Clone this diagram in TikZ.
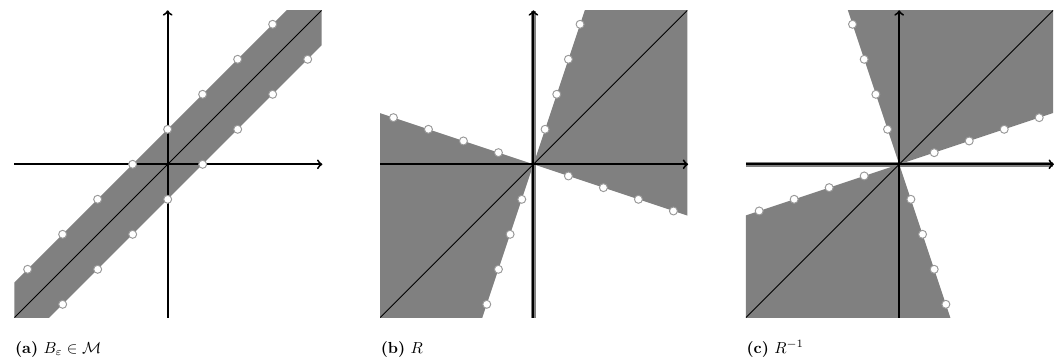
\documentclass[tikz,border=0pt]{standalone}
\usepackage{amsmath}
\usepackage{amssymb}
\usepackage{tikz}

\begin{document}
\begin{tikzpicture}[x=0.77cm, y=0.77cm,
  axis/.style={->, very thick},
  region/.style={fill=black!50},
  dot/.style={circle, fill=white, draw=black!40, line width=0.6pt, inner sep=0pt, minimum size=5pt},
  subcap/.style={anchor=base west, inner sep=0pt}]
  \useasboundingbox (-4.79,-5.649) rectangle (25.58,4.694);

  % (a) band around the diagonal
  \begin{scope}
    \clip (-4.38,-4.38) rectangle (4.4,4.38);
    \fill[region] (-6,-5) -- (5,6) -- (6,5) -- (-5,-6) -- cycle;
    \draw[line width=0.5pt] (-4.38,-4.38) -- (4.4,4.4);
  \end{scope}
  \draw[axis] (-4.38,0) -- (4.42,0);
  \draw[axis] (0,-4.38) -- (0,4.4);
  \foreach \k in {-4,...,3}
    \node[dot] (au\k) at (\k,\k+1) {};
  \foreach \k in {-3,...,4}
    \node[dot] (al\k) at (\k,\k-1) {};
  \node[subcap] (capa) at (-4.37,-5.4) {\textbf{(a)} $B_\varepsilon \in \mathcal{M}$};

  % (b) R
  \begin{scope}[shift={(10.45,0)}]
    \begin{scope}
      \clip (-4.38,-4.38) rectangle (4.4,4.38);
      \fill[region] (0,0) -- (2,6) -- (6,6) -- (6,-2) -- cycle;
      \fill[region] (0,0) -- (-2,-6) -- (-6,-6) -- (-6,2) -- cycle;
      \draw[black!50, line width=3.2pt] (0,-4.38) -- (0,4.38);
      \draw[line width=0.5pt] (-4.38,-4.38) -- (4.4,4.4);
    \end{scope}
    \draw[axis] (-4.38,0) -- (4.42,0);
    \draw[axis] (0,-4.38) -- (0,4.4);
    \foreach \k in {-4,-3,-2,-1,1,2,3,4} {
      \node[dot] (bs\k) at (\k,-\k/3) {};
      \node[dot] (bt\k) at (\k/3,\k) {};
    }
    \node[subcap] (capb) at (-4.37,-5.4) {\textbf{(b)} $R$};
  \end{scope}

  % (c) R^{-1}
  \begin{scope}[shift={(20.9,0)}]
    \begin{scope}
      \clip (-4.38,-4.38) rectangle (4.4,4.38);
      \fill[region] (0,0) -- (-2,6) -- (6,6) -- (6,2) -- cycle;
      \fill[region] (0,0) -- (2,-6) -- (-6,-6) -- (-6,-2) -- cycle;
      \draw[black!50, line width=3.2pt] (-4.38,0) -- (4.4,0);
      \draw[line width=0.5pt] (-4.38,-4.38) -- (4.4,4.4);
    \end{scope}
    \draw[axis] (-4.38,0) -- (4.42,0);
    \draw[axis] (0,-4.38) -- (0,4.4);
    \foreach \k in {-4,-3,-2,-1,1,2,3,4} {
      \node[dot] (cs\k) at (\k,\k/3) {};
      \node[dot] (ct\k) at (-\k/3,\k) {};
    }
    \node[subcap] (capc) at (-4.37,-5.4) {\textbf{(c)} $R^{-1}$};
  \end{scope}
\end{tikzpicture}
\end{document}
